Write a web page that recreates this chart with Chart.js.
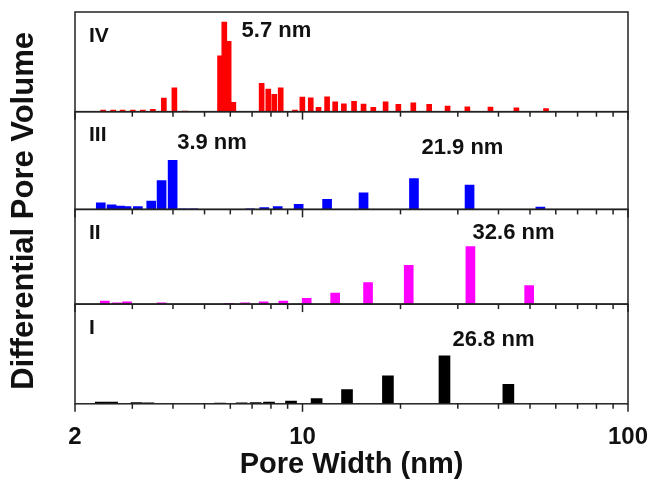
<!DOCTYPE html>
<html>
<head>
<meta charset="utf-8">
<script src="https://cdn.jsdelivr.net/npm/chart.js@4"></script>
<style>
    html, body { margin: 0; padding: 0; background: #fff; }
    #wrap { width: 653px; height: 483px; }
</style>
</head>
<body>
<div id="wrap"><canvas id="poreChart"></canvas></div>
<script>
// Samples, top panel first
var sampleNames = ["IV", "III", "II", "I"];
var sampleColors = ["#ff0000", "#0000ff", "#ff00ff", "#000000"];
var peakTexts = ["5.7 nm", "3.9 nm", "21.9 nm", "32.6 nm", "26.8 nm"];

// Pore width (nm) and differential pore volume (a.u.)
var widthIV = [2.44, 2.62, 2.80, 3.01, 3.23, 3.47, 3.75, 4.04, 4.35, 5.58, 5.75, 5.93, 6.13,
    7.49, 7.85, 8.19, 8.57, 9.48, 9.99, 10.6, 11.2, 11.9, 12.6, 13.4, 14.4, 15.4, 16.5,
    18.0, 19.7, 21.9, 24.5, 27.9, 32.1, 37.8, 45.4, 56.0];
var volumeIV = [1.5, 1.5, 1.5, 1.5, 1.5, 2.3, 13.7, 24, 0.6, 56, 90, 70.7, 9.4,
    28.4, 22.7, 17.4, 24, 1.7, 14.7, 14, 4.4, 15, 10, 8, 10.4, 7.7, 4.4,
    10, 7.4, 9, 7.4, 5.7, 5, 4.7, 4, 3];

var widthIII = [2.40, 2.59, 2.75, 2.88, 3.12, 3.43, 3.69, 3.99, 4.30, 4.62, 6.90, 7.63,
    8.39, 9.73, 11.9, 15.4, 22.0, 32.6, 53.8];
var volumeIII = [6.6, 4.6, 3.3, 2.7, 2.7, 8.3, 29, 49.3, 0.5, 0.5, 0.5, 1.7,
    2.7, 5, 10, 16.6, 31, 24.3, 2.3];

var widthII = [2.47, 2.69, 2.89, 3.69, 5.96, 6.66, 7.60, 8.73, 10.3, 12.6, 15.9, 21.2, 32.8, 49.7];
var volumeII = [3, 1.3, 2.3, 1.3, 0.7, 1.3, 2.3, 3, 5.7, 11, 21.6, 39, 57.6, 18.6];

var widthI = [2.40, 2.60, 3.09, 3.36, 5.58, 6.50, 7.18, 7.89, 9.22, 11.05, 13.7, 18.3, 27.3, 42.9];
var volumeI = [1.7, 1.7, 1.3, 1, 0.7, 1, 1.3, 1.7, 2.7, 5.3, 14.3, 28, 48, 19.6];

// Axis ticks
var xTickLabels = [2, 10, 100];
var xTickMarks = [2, 3, 4, 5, 6, 7, 8, 9, 10, 20, 30, 40, 50, 60, 70, 80, 90, 100];

var FONT = "'Liberation Sans', Arial, Helvetica, sans-serif";
var panelIds = ["yIV", "yIII", "yII", "yI"];
var panelMax = [100, 98, 95, 100];

// where the text labels sit: panel index, x in nm, offset from panel top in px
var peakSpots = [[0, 6.5, 19], [1, 4.12, 31], [1, 23.2, 36], [2, 33.3, 24], [3, 28.9, 36]];

function toPoints(xs, ys) {
    return xs.map(function (x, i) { return { x: x, y: ys[i] }; });
}

var seriesW = [widthIV, widthIII, widthII, widthI];
var seriesV = [volumeIV, volumeIII, volumeII, volumeI];
var thickness = [5, 9, 9, 11];

var datasets = sampleNames.map(function (name, i) {
    return {
        label: name,
        data: toPoints(seriesW[i], seriesV[i]),
        backgroundColor: sampleColors[i],
        borderWidth: 0,
        barThickness: thickness[i],
        grouped: false,
        xAxisID: "x",
        yAxisID: panelIds[i],
    };
});

var scales = {
    x: {
        type: "logarithmic",
        position: "bottom",
        min: 2,
        max: 100,
        grid: { display: false, drawTicks: false },
        border: { display: false },
        afterBuildTicks: function (scale) {
            scale.ticks = xTickLabels.map(function (v) { return { value: v }; });
        },
        ticks: {
            padding: 2,
            color: "#111",
            // tall line box pushes the labels down without extra side padding
            font: { family: FONT, size: 24, weight: "bold", lineHeight: 2.6 },
            callback: function (v) { return String(v); },
            maxRotation: 0,
            autoSkip: false,
        },
        title: {
            display: true,
            text: "Pore Width (nm)",
            color: "#111",
            font: { family: FONT, size: 29, weight: "bold" },
            padding: { top: -23, bottom: -4 },
        },
    },
};
// stacked panels: Chart.js lays the first one at the bottom
for (var k = panelIds.length - 1; k >= 0; k--) {
    scales[panelIds[k]] = {
        type: "linear",
        position: "left",
        stack: "panels",
        stackWeight: panelMax[k],
        min: 0,
        max: panelMax[k],
        grid: { display: false, drawTicks: false },
        border: { display: false },
        ticks: { display: false },
    };
}

// Panel frames, tick marks under every panel, and the text labels
var panelPlugin = {
    id: "panels",
    afterDatasetsDraw: function (chart) {
        var ctx = chart.ctx;
        var area = chart.chartArea;
        var xs = chart.scales.x;
        ctx.save();
        ctx.strokeStyle = "#222";
        ctx.lineWidth = 1.5;
        ctx.fillStyle = "#111";
        ctx.textAlign = "left";
        ctx.textBaseline = "middle";
        panelIds.forEach(function (id, i) {
            var ys = chart.scales[id];
            ctx.strokeRect(area.left, ys.top, area.right - area.left, ys.bottom - ys.top);
            xTickMarks.forEach(function (v) {
                var px = xs.getPixelForValue(v);
                var len = xTickLabels.indexOf(v) >= 0 ? 8 : 5;
                ctx.beginPath();
                ctx.moveTo(px, ys.bottom);
                ctx.lineTo(px, ys.bottom + len);
                ctx.stroke();
            });
            ctx.font = "bold 21px " + FONT;
            ctx.fillText(sampleNames[i], area.left + 14, ys.top + 24);
        });
        ctx.font = "bold 22px " + FONT;
        peakSpots.forEach(function (s, k) {
            var ys = chart.scales[panelIds[s[0]]];
            ctx.fillText(peakTexts[k], xs.getPixelForValue(s[1]), ys.top + s[2]);
        });
        // shared y title
        ctx.translate(24, (area.top + area.bottom) / 2 + 3);
        ctx.rotate(-Math.PI / 2);
        ctx.textAlign = "center";
        ctx.font = "bold 31px " + FONT;
        ctx.fillText("Differential Pore Volume", 0, 0);
        ctx.restore();
    }
};

var poreChart = new Chart(document.getElementById("poreChart").getContext("2d"), {
    type: "bar",
    data: { datasets: datasets },
    options: {
        responsive: true,
        maintainAspectRatio: false,
        animation: false,
        layout: { padding: { left: 75, right: 25, top: 12, bottom: 5 } },
        plugins: {
            legend: { display: false },
            tooltip: { enabled: false },
        },
        scales: scales,
    },
    plugins: [panelPlugin],
});
</script>
</body>
</html>
